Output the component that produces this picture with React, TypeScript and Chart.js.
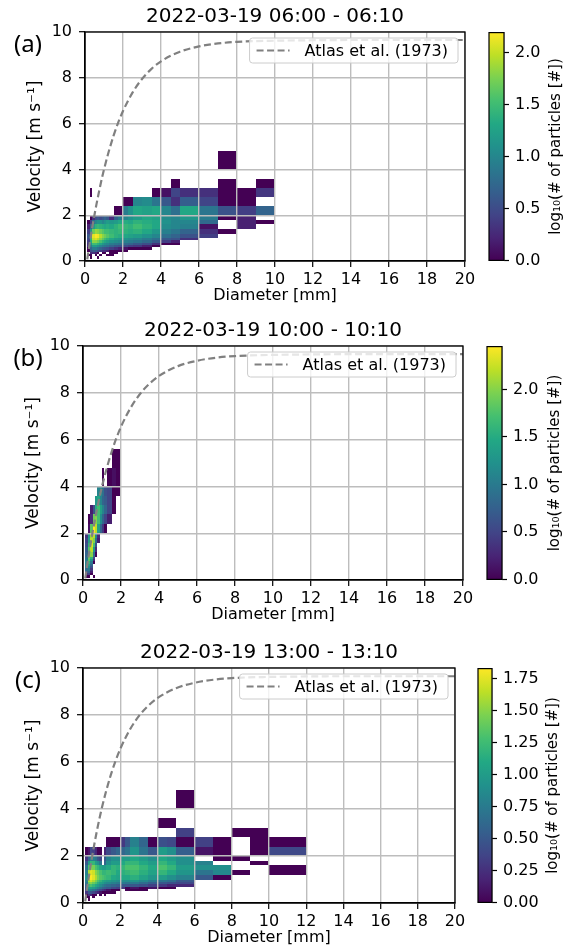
import React, { useEffect, useRef } from "react";
import { Chart, registerables } from "chart.js";

Chart.register(...registerables);

const FONT = "'DejaVu Sans', sans-serif";

// ---- bin edges (disdrometer classes) ----
const DIAMETER_EDGES = [0, 0.125, 0.25, 0.375, 0.5, 0.625, 0.75, 0.875, 1.0, 1.125, 1.25, 1.5, 1.75, 2.0, 2.25, 2.5, 3, 3.5, 4, 4.5, 5, 6, 7, 8, 9, 10, 12, 14, 16, 18, 20];
const VELOCITY_EDGES = [0, 0.1, 0.2, 0.3, 0.4, 0.5, 0.6, 0.7, 0.8, 0.9, 1.0, 1.2, 1.4, 1.6, 1.8, 2.0, 2.4, 2.8, 3.2, 3.6, 4.0, 4.8, 5.6, 6.4, 7.2, 8.0];

// ---- Atlas et al. (1973) reference curve ----
const ATLAS_DIAMETER = [0.12, 0.2, 0.3, 0.4, 0.5, 0.6, 0.75, 0.9, 1.0, 1.25, 1.5, 1.75, 2.0, 2.5, 3.0, 3.5, 4.0, 5, 6, 7, 8, 10, 12, 14, 16, 18, 20];
const ATLAS_VELOCITY = [0.07, 0.52, 1.05, 1.55, 2.02, 2.46, 3.08, 3.65, 4.0, 4.78, 5.46, 6.05, 6.55, 7.35, 7.95, 8.39, 8.72, 9.14, 9.37, 9.5, 9.57, 9.62, 9.64, 9.65, 9.65, 9.65, 9.65];
const LEGEND_LABEL = "Atlas et al. (1973)";

// ---- axis ticks ----
const X_MIN = 0, X_MAX = 20, X_STEP = 2;
const Y_MIN = 0, Y_MAX = 10, Y_STEP = 2;

// ---- titles ----
const TITLES = ["2022-03-19 06:00 - 06:10", "2022-03-19 10:00 - 10:10", "2022-03-19 13:00 - 13:10"];
const PANEL_LABELS = ["(a)", "(b)", "(c)"];
const CB_STEPS = [0.5, 0.5, 0.25];
const CB_DECIMALS = [1, 1, 2];

// ---- log10(# particles) per cell: [velocityBin, firstDiameterBin, values...] ----
const _ = null;
const COUNTS_A = [
  [20, 22, 0],
  [18, 19, 0, _, _, 0, _, 0],
  [17, 2, 0],
  [17, 17, 0, 0.1, 0.45, 0.3, 0.3, 0, 0, 0.35],
  [16, 13, 0, 0, 1.0, 1.05, 0.85, 0.6, 0.3, 0.65, 0.45, 0, 0],
  [15, 11, 0, 0, 0.9, 1.1, 1.3, 1.25, 1.3, 1.0, 0.8, 1.3, 0.85, 0.55, 0.4, 0.7],
  [14, 2, 0, 0.3, 0.5, 0.6, 0.5, 0.6, 0.7, 0.6, 0.3, 0.7, 0.9, 1.0, 1.1, 1.2, 1.3, 1.25, 1.05, 1.0, 1.15, 0.9, 0, 0.2],
  [13, 1, 0, 0.4, 0.8, 1.0, 1.1, 1.1, 1.0, 1.1, 1.2, 1.15, 1.2, 1.3, 1.35, 1.3, 1.4, 1.35, 1.3, 1.1, 1.0, 1.0, 0.75, _, 0.2, 0],
  [12, 1, 0.2, 0.7, 1.2, 1.4, 1.45, 1.4, 1.35, 1.3, 1.35, 1.3, 1.4, 1.5, 1.45, 1.4, 1.5, 1.4, 1.3, 1.05, 1.0, 0.95, 0.1, _, 0.2],
  [11, 1, 0.4, 1.1, 1.7, 1.85, 1.8, 1.7, 1.6, 1.5, 1.5, 1.45, 1.4, 1.45, 1.4, 1.35, 1.4, 1.3, 1.15, 0.95, 0.85, 0.7, 0.3, 0],
  [10, 1, 0.6, 1.5, 2.1, 2.19, 2.15, 1.95, 1.8, 1.7, 1.6, 1.5, 1.4, 1.35, 1.3, 1.25, 1.2, 1.1, 1.0, 0.8, 0.7, 0.55, 0.4],
  [9, 1, 0.5, 1.4, 2.0, 2.05, 1.95, 1.8, 1.65, 1.5, 1.4, 1.3, 1.2, 1.15, 1.1, 1.05, 1.0, 0.9, 0.8, 0.6, 0.55, 0.3],
  [8, 1, 0.4, 1.3, 1.8, 1.8, 1.7, 1.55, 1.4, 1.3, 1.2, 1.1, 1.05, 1.0, 0.95, 0.9, 0.85, 0.75, 0.6, 0.4, 0.2],
  [7, 1, 0.3, 1.1, 1.5, 1.5, 1.4, 1.3, 1.15, 1.05, 1.0, 0.9, 0.85, 0.8, 0.75, 0.7, 0.6, 0.5, 0.3, 0, 0],
  [6, 1, 0.3, 0.9, 1.2, 1.2, 1.1, 1.0, 0.9, 0.85, 0.8, 0.7, 0.6, 0.55, 0.5, 0.4, 0.35, 0.2, 0],
  [5, 1, 0, 0.7, 0.9, 0.9, 0.8, 0.7, 0.6, 0.55, 0.5, 0.4, 0.3, 0.2, 0.1, 0, 0, 0],
  [4, 1, 0, 0.5, 0.6, 0.6, 0.5, 0.4, 0.3, 0.3, 0.2, 0, 0, 0, 0],
  [3, 2, 0.3, 0.3, 0.2, 0, _, 0, 0, _, 0, 0],
  [2, 1, 0, 0, _, 0, _, 0, _, _, 0, 0],
  [1, 2, 0, _, _, 0],
];

const COUNTS_B = [
  [21, 11, 0, 0],
  [20, 8, 0, _, 0, 0.1, 0],
  [19, 6, 1.1, 1.2, 0.9, 0.6, 0.5, 0, 0],
  [18, 5, 1.3, 1.45, 1.1, 0.8, 0.7, 0.5, 0],
  [17, 3, 0.2, 0.6, 1.5, 1.7, 1.4, 1.1, 0.8, 0.5, 0],
  [16, 2, 0, 0.3, 1.9, 2.0, 1.7, 1.2, 0.8, 0.5, 0.2],
  [15, 2, 0.1, 1.8, 2.45, 2.2, 1.4, 0.8, 0.4, 0],
  [14, 1, 0.4, 1.3, 2.1, 2.2, 1.2, 0.3],
  [13, 1, 0.5, 1.4, 2.2, 2.0, 0.9, 0.2],
  [12, 1, 0.6, 1.6, 2.3, 1.7, 0.6],
  [11, 1, 0.7, 1.8, 2.2, 1.3, 0.3],
  [10, 1, 0.8, 2.0, 2.0, 0.9, 0],
  [9, 1, 0.9, 1.9, 1.6, 0.5],
  [8, 1, 1.0, 1.8, 1.3, 0.3],
  [7, 1, 1.1, 1.6, 1.0, 0],
  [6, 1, 1.1, 1.4, 0.8],
  [5, 1, 1.0, 1.2, 0.6],
  [4, 1, 0.9, 1.0, 0.4],
  [3, 1, 0.7, 0.8, 0.2],
  [2, 1, 0.4, 0.5, 0],
  [1, 1, 0, 0, _, 0],
];

const COUNTS_C = [
  [20, 20, 0],
  [18, 18, 0, 0],
  [17, 20, 0.35, _, _, 0, 0],
  [16, 10, 0, 0, 0, 0.3, 0.5, 0.8, 0.6, 0, 0.45, 0.4, 0, 0.35, 0, _, 0, 0],
  [15, 1, 0, 0.1, 0.4, 0.35, 0.2, 0, 0, _, 0.2, 0.4, 0.5, 0.6, 0.6, 0.7, 0.95, 0.7, 0.5, 1.0, 0.9, 0.55, 0.1, 0, _, 0, 0.4],
  [14, 1, 0.3, 0.6, 0.8, 0.8, 0.7, 0.5, 0.4, _, 0.5, 0.8, 0.9, 0.9, 1.0, 1.0, 1.1, 1.0, 0.9, 1.1, 1.0, 0.9, _, 0, 0],
  [13, 1, 0.5, 1.0, 1.2, 1.2, 1.0, 0.9, 0.7, _, 0.6, 0.9, 1.0, 1.0, 1.1, 1.2, 1.2, 1.1, 1.0, 1.2, 1.1, 0.9, 0.8, _, _, 0],
  [12, 1, 0.7, 1.3, 1.5, 1.45, 1.3, 1.2, 1.1, 1.0, 1.0, 1.1, 1.2, 1.15, 1.2, 1.3, 1.3, 1.2, 1.1, 1.3, 1.2, 1.0, 0.9, 0.9, _, _, 0],
  [11, 1, 0.8, 1.6, 1.75, 1.7, 1.5, 1.4, 1.3, 1.2, 1.2, 1.25, 1.2, 1.1, 1.15, 1.2, 1.25, 1.15, 1.05, 1.2, 1.1, 0.95, 0.7, 0.85, 0, _, 0],
  [10, 1, 0.9, 1.75, 1.83, 1.75, 1.6, 1.45, 1.35, 1.3, 1.25, 1.2, 1.1, 1.05, 1.1, 1.1, 1.15, 1.05, 0.95, 1.0, 0.9, 0.8, 0.5, 0],
  [9, 1, 0.8, 1.6, 1.7, 1.6, 1.45, 1.3, 1.2, 1.1, 1.05, 1.0, 0.95, 0.9, 0.9, 0.9, 0.95, 0.85, 0.75, 0.7, 0.65, 0.5],
  [8, 1, 0.7, 1.4, 1.5, 1.4, 1.3, 1.15, 1.05, 1.0, 0.9, 0.85, 0.8, 0.75, 0.75, 0.7, 0.75, 0.65, 0.55, 0.5, 0.45, 0.4],
  [7, 1, 0.6, 1.2, 1.3, 1.2, 1.1, 1.0, 0.9, 0.8, 0.7, 0.65, 0.6, 0.55, 0.5, 0.5, 0.5, 0.45, 0.35, 0.3, 0.2, 0.2],
  [6, 1, 0.5, 1.0, 1.05, 1.0, 0.9, 0.8, 0.7, 0.6, 0.55, 0.5, 0.4, 0.35, 0.3, 0, 0.1, 0, 0.1, 0, 0],
  [5, 1, 0.4, 0.8, 0.8, 0.7, 0.6, 0.5, 0.4, 0.3, 0.2, 0.1, 0, 0, _, 0, 0, 0],
  [4, 1, 0.3, 0.5, 0.5, 0.4, 0.3, 0.2, 0.1, 0, 0, 0, 0],
  [3, 1, 0, 0.3, 0.2, 0, 0, _, 0, _, 0],
  [2, 1, 0, 0, _, 0],
  [1, 2, 0],
];

const PANEL_COUNTS = [COUNTS_A, COUNTS_B, COUNTS_C];

// viridis anchor colours (t = 0, 0.1, ..., 1)
const VIRIDIS = ["#440154", "#482475", "#414487", "#355f8d", "#2a788e", "#21918c", "#22a884", "#44bf70", "#7ad151", "#bddf26", "#fde725"];

// ---- layout (page pixels) ----
const GEOM = [
  { canvasTop: 0, canvasH: 315, L: 85, R: 465, T: 32, B: 261, cbL: 489, cbR: 504, cbLabelX: 556, yTitleX: 36 },
  { canvasTop: 315, canvasH: 318, L: 83, R: 463, T: 346, B: 580, cbL: 487, cbR: 502, cbLabelX: 555, yTitleX: 34 },
  { canvasTop: 633, canvasH: 317, L: 83, R: 455, T: 668, B: 903, cbL: 478, cbR: 492, cbLabelX: 553, yTitleX: 34 },
];
const CB_CANVAS_LEFT = 470;
const CB_CANVAS_W = 95;

function hexToRgb(h: string) {
  return [parseInt(h.slice(1, 3), 16), parseInt(h.slice(3, 5), 16), parseInt(h.slice(5, 7), 16)];
}
const VIRIDIS_RGB = VIRIDIS.map(hexToRgb);
function viridis(t: number) {
  const c = Math.max(0, Math.min(1, t)) * (VIRIDIS_RGB.length - 1);
  const i = Math.min(Math.floor(c), VIRIDIS_RGB.length - 2);
  const f = c - i;
  const a = VIRIDIS_RGB[i], b = VIRIDIS_RGB[i + 1];
  const r = Math.round(a[0] + (b[0] - a[0]) * f);
  const g = Math.round(a[1] + (b[1] - a[1]) * f);
  const bl = Math.round(a[2] + (b[2] - a[2]) * f);
  return `rgb(${r},${g},${bl})`;
}

function maxValue(rows: any[]) {
  let m = 0;
  rows.forEach((row) => row.slice(2).forEach((v: any) => { if (v !== null && v > m) m = v; }));
  return m;
}

const heatmapPlugin = {
  id: "heatmap",
  beforeDraw(chart: any, _args: any, opts: any) {
    const { ctx, chartArea: a, scales } = chart;
    const xs = scales.x, ys = scales.y;
    ctx.save();
    ctx.beginPath();
    ctx.rect(a.left, a.top, a.right - a.left, a.bottom - a.top);
    ctx.clip();
    for (const row of opts.rows) {
      const vi = row[0], j0 = row[1];
      const yTop = Math.round(ys.getPixelForValue(VELOCITY_EDGES[vi + 1]));
      const yBot = Math.round(ys.getPixelForValue(VELOCITY_EDGES[vi]));
      row.slice(2).forEach((val: any, k: number) => {
        if (val === null) return;
        const j = j0 + k;
        const xL = Math.round(xs.getPixelForValue(DIAMETER_EDGES[j]));
        const xR = Math.round(xs.getPixelForValue(DIAMETER_EDGES[j + 1]));
        ctx.fillStyle = viridis(val / opts.vmax);
        ctx.fillRect(xL, yTop, xR - xL, yBot - yTop);
      });
    }
    ctx.restore();
  },
};

const decorPlugin = {
  id: "decor",
  afterDraw(chart: any, _args: any, opts: any) {
    const { ctx, chartArea: a } = chart;
    ctx.save();
    // frame
    ctx.strokeStyle = "#000";
    ctx.lineWidth = 1.3;
    ctx.setLineDash([]);
    ctx.strokeRect(a.left, a.top, a.right - a.left, a.bottom - a.top);
    // legend
    ctx.font = `16px ${FONT}`;
    const tw = ctx.measureText(LEGEND_LABEL).width;
    const h = 25;
    const right = a.right - 7;
    const top = a.top + 6;
    const w = 55 + tw + 10;
    const left = right - w;
    ctx.beginPath();
    if (ctx.roundRect) ctx.roundRect(left, top, w, h, 3);
    else ctx.rect(left, top, w, h);
    ctx.fillStyle = "rgba(255,255,255,0.8)";
    ctx.fill();
    ctx.strokeStyle = "#cccccc";
    ctx.lineWidth = 1;
    ctx.stroke();
    ctx.beginPath();
    ctx.setLineDash([7, 3.5]);
    ctx.strokeStyle = "#808080";
    ctx.lineWidth = 2.2;
    ctx.moveTo(left + 7, top + h / 2);
    ctx.lineTo(left + 40, top + h / 2);
    ctx.stroke();
    ctx.setLineDash([]);
    ctx.fillStyle = "#000";
    ctx.textAlign = "left";
    ctx.textBaseline = "middle";
    ctx.fillText(LEGEND_LABEL, left + 55, top + h / 2 + 1);
    // title
    ctx.font = `20px ${FONT}`;
    ctx.textAlign = "center";
    ctx.fillText(opts.title, (a.left + a.right) / 2, a.top - 15.5);
    // panel label
    ctx.font = `24px 'Noto Sans', ${FONT}`;
    ctx.fillText(opts.label, 28, a.top + 13);
    ctx.restore();
  },
};

const colorbarPlugin = {
  id: "cbdecor",
  afterDraw(chart: any, _args: any, opts: any) {
    const { ctx, chartArea: a } = chart;
    ctx.save();
    ctx.strokeStyle = "#000";
    ctx.lineWidth = 1.2;
    ctx.strokeRect(a.left, a.top, a.right - a.left, a.bottom - a.top);
    ctx.translate(opts.labelX, (a.top + a.bottom) / 2);
    ctx.rotate(-Math.PI / 2);
    ctx.font = `15px ${FONT}`;
    ctx.fillStyle = "#000";
    ctx.textAlign = "center";
    ctx.textBaseline = "middle";
    ctx.fillText("log\u2081\u2080(# of particles [#])", 0, 0);
    ctx.restore();
  },
};

function Panel({ idx }: { idx: number }) {
  const mainRef = useRef<HTMLCanvasElement>(null);
  const cbRef = useRef<HTMLCanvasElement>(null);
  const g = GEOM[idx];
  const rows = PANEL_COUNTS[idx];
  const vmax = maxValue(rows);
  const cbCanvasTop = g.T - 15;
  const cbCanvasH = g.B - g.T + 30;

  useEffect(() => {
    const tickFont = { family: FONT, size: 16 };
    const main = new Chart(mainRef.current as HTMLCanvasElement, {
      type: "scatter",
      data: {
        datasets: [
          {
            label: LEGEND_LABEL,
            data: ATLAS_DIAMETER.map((d, i) => ({ x: d, y: ATLAS_VELOCITY[i] })),
            showLine: true,
            borderColor: "#808080",
            borderWidth: 2.2,
            borderDash: [7, 3.5],
            pointRadius: 0,
            cubicInterpolationMode: "monotone",
            fill: false,
          } as any,
        ],
      },
      options: {
        animation: false,
        responsive: false,
        devicePixelRatio: 1,
        events: [],
        layout: { padding: { left: 0, top: g.T - g.canvasTop, right: 565 - g.R, bottom: 0 } },
        plugins: {
          legend: { display: false },
          tooltip: { enabled: false },
          heatmap: { rows, vmax },
          decor: { title: TITLES[idx], label: PANEL_LABELS[idx] },
        } as any,
        scales: {
          x: {
            type: "linear",
            min: X_MIN,
            max: X_MAX,
            ticks: { stepSize: X_STEP, font: tickFont, color: "#000", padding: 3, maxRotation: 0, autoSkip: false },
            grid: { color: "#bdbdbd", lineWidth: 1.4, tickLength: 6, tickColor: "#000", tickWidth: 1.2 },
            border: { color: "#000", width: 1.3 },
            title: {
              display: true,
              text: "Diameter [mm]",
              color: "#000",
              font: { family: FONT, size: 16 },
              padding: { top: 0, bottom: g.canvasH - (g.B + 35 - g.canvasTop) - 9.6 },
            },
            afterFit: (s: any) => { s.height = g.canvasTop + g.canvasH - g.B; },
          },
          y: {
            type: "linear",
            min: Y_MIN,
            max: Y_MAX,
            ticks: { stepSize: Y_STEP, font: tickFont, color: "#000", padding: 7 },
            grid: { color: "#bdbdbd", lineWidth: 1.4, tickLength: 6, tickColor: "#000", tickWidth: 1.2 },
            border: { color: "#000", width: 1.3 },
            title: {
              display: true,
              text: "Velocity [m s\u207B\u00B9]",
              color: "#000",
              font: { family: FONT, size: 17 },
              padding: { top: g.yTitleX - 10.2, bottom: 0 },
            },
            afterFit: (s: any) => { s.width = g.L; },
          },
        } as any,
      },
      plugins: [heatmapPlugin, decorPlugin],
    } as any);

    const cb = new Chart(cbRef.current as HTMLCanvasElement, {
      type: "bar",
      data: {
        labels: [""],
        datasets: [
          {
            data: [[0, vmax]],
            backgroundColor: (c: any) => {
              const ca = c.chart.chartArea;
              if (!ca) return VIRIDIS[0];
              const grad = c.chart.ctx.createLinearGradient(0, ca.bottom, 0, ca.top);
              VIRIDIS.forEach((col, k) => grad.addColorStop(k / (VIRIDIS.length - 1), col));
              return grad;
            },
            borderWidth: 0,
            barPercentage: 1,
            categoryPercentage: 1,
          } as any,
        ],
      },
      options: {
        animation: false,
        responsive: false,
        devicePixelRatio: 1,
        events: [],
        layout: { padding: { left: g.cbL - CB_CANVAS_LEFT, top: 15, bottom: 15, right: 0 } },
        plugins: {
          legend: { display: false },
          tooltip: { enabled: false },
          cbdecor: { labelX: g.cbLabelX - CB_CANVAS_LEFT },
        } as any,
        scales: {
          x: { display: false },
          y: {
            position: "right",
            min: 0,
            max: vmax,
            ticks: {
              stepSize: CB_STEPS[idx],
              includeBounds: false,
              font: tickFont,
              color: "#000",
              padding: 6,
              callback: (v: any) => Number(v).toFixed(CB_DECIMALS[idx]),
            },
            grid: { drawOnChartArea: false, tickLength: 5, tickColor: "#000", tickWidth: 1.2 },
            border: { color: "#000", width: 1.2 },
            afterFit: (s: any) => { s.width = CB_CANVAS_W - (g.cbR - CB_CANVAS_LEFT); },
          },
        } as any,
      },
      plugins: [colorbarPlugin],
    } as any);

    return () => {
      main.destroy();
      cb.destroy();
    };
  }, []);

  return (
    <>
      <canvas ref={mainRef} width={565} height={g.canvasH} style={{ position: "absolute", left: 0, top: g.canvasTop }} />
      <canvas ref={cbRef} width={CB_CANVAS_W} height={cbCanvasH} style={{ position: "absolute", left: CB_CANVAS_LEFT, top: cbCanvasTop }} />
    </>
  );
}

export default function App() {
  return (
    <div style={{ position: "absolute", left: 0, top: 0, width: 565, height: 950, background: "#fff" }}>
      <Panel idx={0} />
      <Panel idx={1} />
      <Panel idx={2} />
    </div>
  );
}
